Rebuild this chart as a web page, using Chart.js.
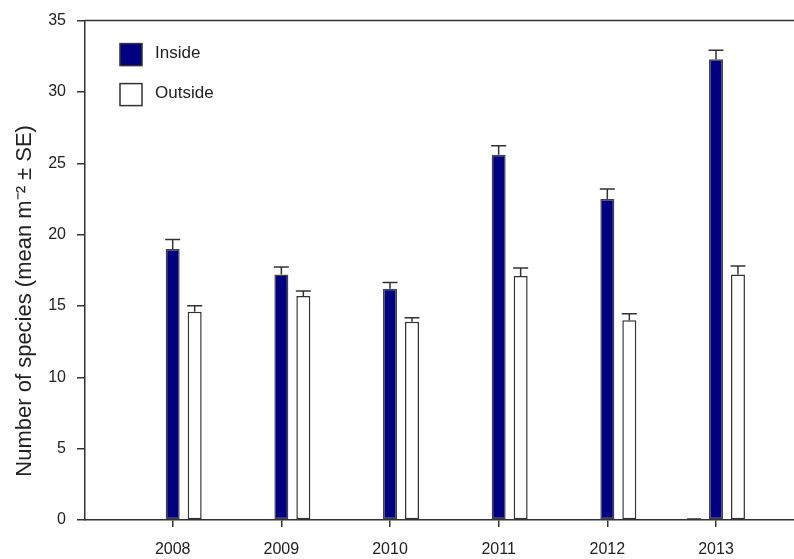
<!DOCTYPE html>
<html>
<head>
<meta charset="utf-8">
<script src="https://cdn.jsdelivr.net/npm/chart.js@4"></script>
<style>
  html, body { margin: 0; padding: 0; background: #fff; }
  #wrap { width: 794px; height: 559px; }
</style>
</head>
<body>
<div id="wrap"><canvas id="chart" width="794" height="559"></canvas></div>
<script>
const years = [2008, 2009, 2010, 2011, 2012, 2013];
const insideMean = [19.0, 17.2, 16.2, 25.6, 22.5, 32.3];
const insideSE = [0.65, 0.53, 0.44, 0.63, 0.7, 0.63];
const outsideMean = [14.6, 15.7, 13.9, 17.1, 14.0, 17.2];
const outsideSE = [0.42, 0.35, 0.28, 0.56, 0.46, 0.6];
// empty third series, only 2013 has a (zero) value
const blankMean = [null, null, null, null, null, 0];
const yTicks = [0, 5, 10, 15, 20, 25, 30, 35];

const toPoints = (vals) => years.map((x, i) => ({x: x, y: vals[i]}));

//draws the SE whiskers, zero bars, top frame line and the legend
const extrasPlugin = {
  id: 'extras',
  afterDatasetsDraw(chart) {
    const ctx = chart.ctx;
    const y = chart.scales.y;
    ctx.save();
    ctx.strokeStyle = '#333';
    ctx.lineWidth = 1.5;
    chart.data.datasets.forEach((ds, di) => {
      const meta = chart.getDatasetMeta(di);
      meta.data.forEach((bar, i) => {
        const v = ds.data[i].y;
        if (v === null) return;
        if (v === 0) {
          ctx.beginPath();
          ctx.moveTo(bar.x - bar.width / 2, y.getPixelForValue(0) - 1);
          ctx.lineTo(bar.x + bar.width / 2, y.getPixelForValue(0) - 1);
          ctx.stroke();
          return;
        }
        if (!ds.se) return;
        const top = y.getPixelForValue(v + ds.se[i]);
        const half = 7.5;
        ctx.beginPath();
        ctx.moveTo(bar.x, y.getPixelForValue(v));
        ctx.lineTo(bar.x, top);
        ctx.moveTo(bar.x - half, top);
        ctx.lineTo(bar.x + half, top);
        ctx.stroke();
      });
    });
    ctx.restore();
  },
  afterDraw(chart) {
    const ctx = chart.ctx;
    const a = chart.chartArea;
    ctx.save();
    ctx.strokeStyle = '#333';
    ctx.lineWidth = 1.5;
    ctx.beginPath();
    ctx.moveTo(a.left, a.top);
    ctx.lineTo(a.right, a.top);
    ctx.stroke();
    //legend
    const items = chart.data.datasets.filter(d => d.label);
    ctx.font = '17px "Liberation Sans", Arial';
    ctx.textBaseline = 'middle';
    items.forEach((d, k) => {
      const bx = a.left + 35, by = a.top + 23 + k * 40;
      ctx.fillStyle = d.backgroundColor;
      ctx.fillRect(bx, by, 22, 22);
      ctx.strokeStyle = '#333';
      ctx.lineWidth = 1.5;
      ctx.strokeRect(bx, by, 22, 22);
      ctx.fillStyle = '#222';
      ctx.fillText(d.label, bx + 35, by + 10);
    });
    ctx.restore();
  }
};

new Chart(document.getElementById('chart'), {
  type: 'bar',
  plugins: [extrasPlugin],
  data: {
    datasets: [
      {
        label: '',
        data: toPoints(blankMean),
        backgroundColor: '#ffffff',
        borderColor: '#222',
        borderWidth: 1.5
      },
      {
        label: 'Inside',
        data: toPoints(insideMean),
        se: insideSE,
        backgroundColor: '#000080',
        borderColor: '#444',
        borderWidth: 1.5,
        borderSkipped: false
      },
      {
        label: 'Outside',
        data: toPoints(outsideMean),
        se: outsideSE,
        backgroundColor: '#ffffff',
        borderColor: '#333',
        borderWidth: 1.5,
        borderSkipped: false
      }
    ]
  },
  options: {
    responsive: false,
    animation: false,
    categoryPercentage: 0.607,
    barPercentage: 0.636,
    layout: { padding: { top: 20, left: 0, right: 0, bottom: 0 } },
    plugins: {
      legend: { display: false },
      tooltip: { enabled: false }
    },
    scales: {
      x: {
        type: 'linear',
        offset: false,
        min: 2007.193,
        max: 2013.718,
        afterBuildTicks: (s) => { s.ticks = years.map(v => ({value: v})); },
        afterFit: (s) => { s.height = 39; },
        grid: { offset: false, drawOnChartArea: false, drawTicks: true, tickLength: 7, color: '#333', lineWidth: 1.5 },
        border: { display: true, color: '#333', width: 1.5 },
        ticks: {
          callback: (v) => String(v),
          color: '#222',
          font: { family: '"Liberation Sans", Arial', size: 16 },
          padding: 13,
          maxRotation: 0,
          autoSkip: false
        }
      },
      y: {
        min: 0,
        max: 35,
        afterBuildTicks: (s) => { s.ticks = yTicks.map(v => ({value: v})); },
        afterFit: (s) => { s.width = 85; },
        grid: { drawOnChartArea: false, drawTicks: true, tickLength: 8, color: '#333', lineWidth: 1.5 },
        border: { display: true, color: '#333', width: 1.5 },
        ticks: {
          color: '#222',
          font: { family: '"Liberation Sans", Arial', size: 16 },
          padding: 11
        },
        title: {
          display: true,
          // trailing spaces push the rotated label down, as in the original
          text: 'Number of species (mean m\u207B\u00B2 \u00B1 SE)          ',
          color: '#222',
          font: { family: '"Liberation Sans", Arial', size: 22 },
          padding: { top: 12, bottom: 0 }
        }
      }
    }
  }
});
</script>
</body>
</html>
